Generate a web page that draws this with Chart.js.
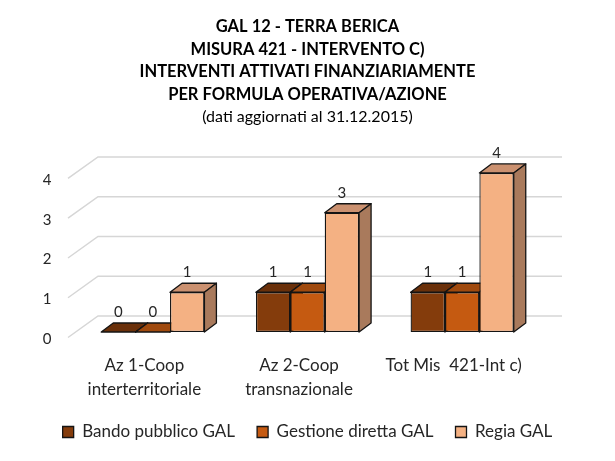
<!DOCTYPE html>
<html>
<head>
<meta charset="utf-8">
<script src="https://cdn.jsdelivr.net/npm/chart.js@4.4.1/dist/chart.umd.min.js"></script>
<style>
  html, body { margin: 0; padding: 0; background: #fff; }
  #wrap { width: 615px; height: 461px; }
</style>
</head>
<body>
<div id="wrap"><canvas id="chart"></canvas></div>
<script>
// data
const categories = [["Az 1-Coop", "interterritoriale"], ["Az 2-Coop", "transnazionale"], ["Tot Mis  421-Int c)"]];
const seriesNames = ["Bando pubblico GAL", "Gestione diretta GAL", "Regia GAL"];
const bandoPubblico = [0, 1, 1];
const gestioneDiretta = [0, 1, 1];
const regiaGal = [1, 3, 4];
const yTicks = [0, 1, 2, 3, 4];
const titleLines = ["GAL 12 - TERRA BERICA", "MISURA 421 - INTERVENTO C)", "INTERVENTI ATTIVATI FINANZIARIAMENTE", "PER FORMULA OPERATIVA/AZIONE"];
const subtitleText = "(dati aggiornati al 31.12.2015)";

const frontColors = ["#843C0C", "#C55A11", "#F4B183"];
const topColors = ["#6A300A", "#A04A0E", "#CB9170"];
const sideColors = ["#5A2808", "#8A3F0C", "#A97A5C"];

const FONT = "Lato";
const TEXT = "#262626";
const DX = 12, DY = 9;              // depth of a bar
const WALL_FRONT = [-7.5, 5.5];     // grid front edge, from bar plane
const WALL_BACK = [22.5, -16];      // grid back edge, from bar plane

const poly = (ctx, pts, fill) => {
  ctx.beginPath();
  ctx.moveTo(pts[0][0], pts[0][1]);
  for (let i = 1; i < pts.length; i++) ctx.lineTo(pts[i][0], pts[i][1]);
  ctx.closePath();
  ctx.fillStyle = fill;
  ctx.fill();
  ctx.stroke();
};

const threeD = {
  id: "threeD",
  beforeDatasetsDraw(chart) {
    const ctx = chart.ctx;
    const area = chart.chartArea;
    const ys = chart.scales.y;
    ctx.save();
    // walls
    ctx.strokeStyle = "#d6d6d6";
    ctx.lineWidth = 1.5;
    yTicks.forEach((v) => {
      const y = ys.getPixelForValue(v);
      ctx.beginPath();
      ctx.moveTo(area.left + WALL_FRONT[0], y + WALL_FRONT[1]);
      ctx.lineTo(area.left + WALL_BACK[0], y + WALL_BACK[1]);
      ctx.lineTo(area.right + WALL_BACK[0], y + WALL_BACK[1]);
      ctx.stroke();
    });
    // top and side faces of bars
    ctx.strokeStyle = "#141414";
    ctx.lineWidth = 1.3;
    ctx.lineJoin = "round";
    chart.data.datasets.forEach((ds, di) => {
      chart.getDatasetMeta(di).data.forEach((bar) => {
        const l = bar.x - bar.width / 2;
        const r = bar.x + bar.width / 2;
        const t = bar.y;
        const b = bar.base;
        poly(ctx, [[l, t], [r, t], [r + DX, t - DY], [l + DX, t - DY]], topColors[di]);
        poly(ctx, [[r, t], [r + DX, t - DY], [r + DX, b - DY], [r, b]], sideColors[di]);
      });
    });
    ctx.restore();
  },
  afterDatasetsDraw(chart) {
    const ctx = chart.ctx;
    ctx.save();
    ctx.fillStyle = TEXT;
    ctx.font = "15px " + FONT;
    ctx.textAlign = "center";
    ctx.textBaseline = "middle";
    // value labels
    chart.data.datasets.forEach((ds, di) => {
      chart.getDatasetMeta(di).data.forEach((bar, i) => {
        ctx.fillText(String(ds.data[i]), bar.x, bar.y - 20);
      });
    });
    ctx.restore();
  },
};

const datasetOf = (label, data, i) => ({
  label: label,
  data: data,
  backgroundColor: frontColors[i],
  borderColor: "#141414",
  borderWidth: 1.3,
  borderSkipped: false,
  categoryPercentage: 0.667,
  barPercentage: 1.0,
});

new Chart(document.getElementById("chart"), {
  type: "bar",
  data: {
    labels: categories,
    datasets: [
      datasetOf(seriesNames[0], bandoPubblico, 0),
      datasetOf(seriesNames[1], gestioneDiretta, 1),
      datasetOf(seriesNames[2], regiaGal, 2),
    ],
  },
  plugins: [threeD],
  options: {
    responsive: true,
    maintainAspectRatio: false,
    animation: false,
    layout: { padding: { top: 0, left: 0, right: 0, bottom: 10.5 } },
    plugins: {
      title: {
        display: true,
        text: titleLines,
        color: "#000",
        font: { family: FONT, size: 16.5, weight: "bold", lineHeight: 1.364 },
        padding: { top: 15.75, bottom: 0 },
      },
      subtitle: {
        display: true,
        text: subtitleText,
        color: "#000",
        font: { family: FONT, size: 16, lineHeight: 1.4 },
        padding: { top: 0, bottom: 44.8 },
      },
      legend: {
        position: "bottom",
        maxHeight: 60,
        labels: {
          color: TEXT,
          font: { family: FONT, size: 17 },
          boxWidth: 11,
          boxHeight: 11,
          padding: 22,
        },
      },
      tooltip: { enabled: false },
    },
    scales: {
      x: {
        grid: { display: false, drawTicks: false },
        border: { display: false },
        ticks: {
          color: TEXT,
          font: { family: FONT, size: 17, lineHeight: 1.38 },
          labelOffset: -8.5,
          padding: 22,
          maxRotation: 0,
          autoSkip: false,
        },
        afterFit: (s) => { s.height = 69.5; },
      },
      y: {
        min: 0,
        max: 4,
        grid: { display: false, drawTicks: false },
        border: { display: false },
        ticks: {
          stepSize: 1,
          padding: 24,
          labelOffset: 7,
          color: TEXT,
          font: { family: FONT, size: 15 },
        },
        afterFit: (s) => { s.width = 75.5; },
      },
      // keeps the plot clear of the right margin, as in the picture
      yRight: {
        position: "right",
        grid: { display: false, drawTicks: false },
        border: { display: false },
        ticks: { display: false },
        afterFit: (s) => { s.width = 75.5; },
      },
    },
  },
});
</script>
</body>
</html>
